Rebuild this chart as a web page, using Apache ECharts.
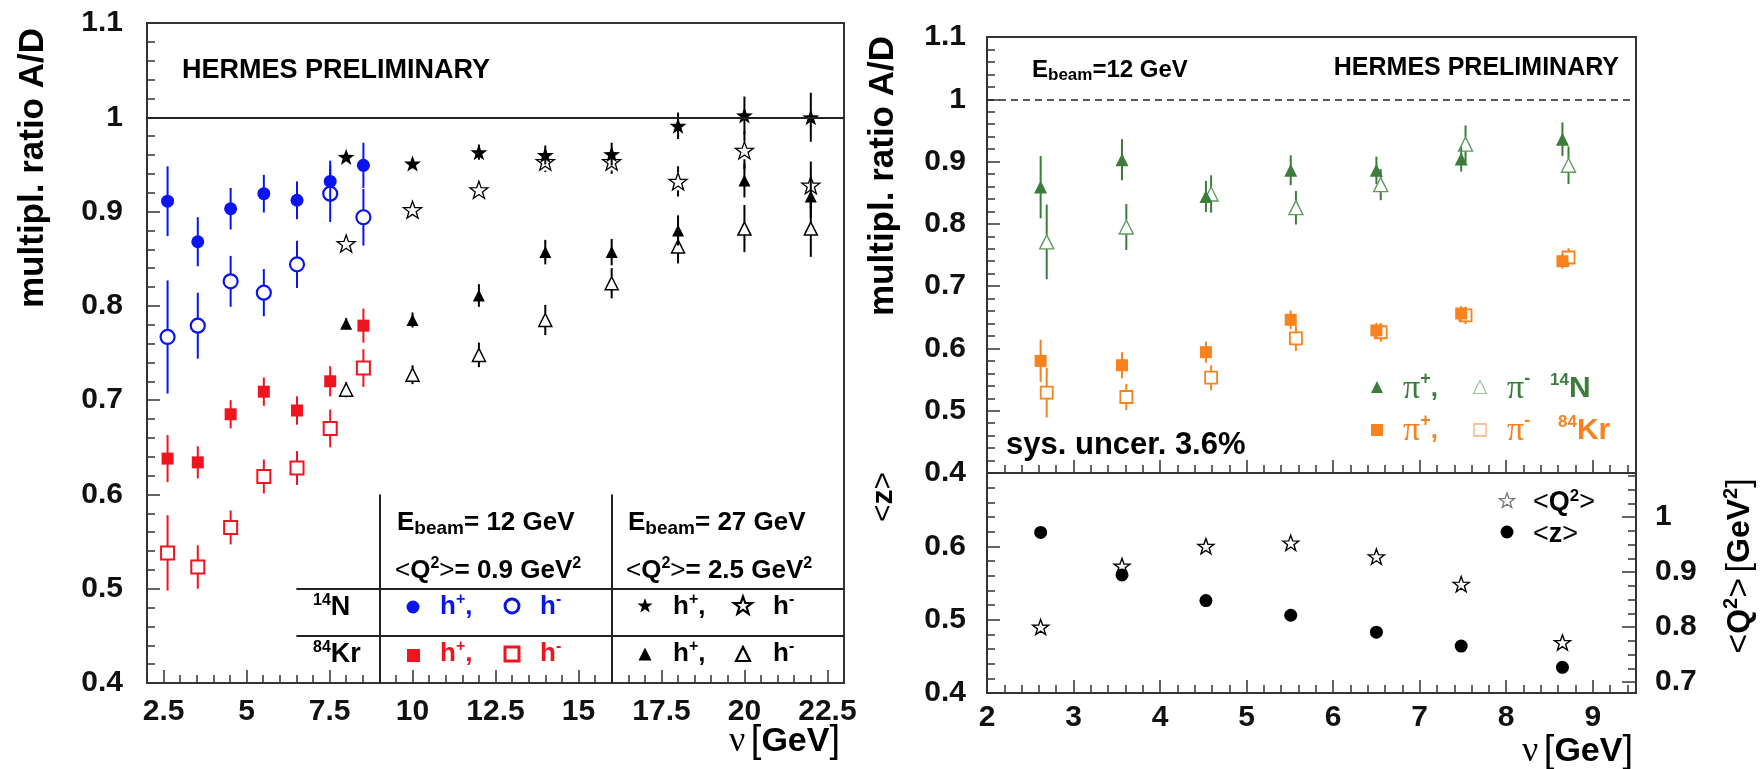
<!DOCTYPE html>
<html><head><meta charset="utf-8">
<script src="https://cdn.jsdelivr.net/npm/echarts@6/dist/echarts.min.js"></script>
<style>html,body{margin:0;padding:0;background:#fff}#c{width:1764px;height:769px}</style>
</head><body><div id="c"></div>
<script>
// ---------------- data ----------------
// left panel: E_beam = 12 GeV (nu bins) and 27 GeV (nu bins)
const nu12 = [2.62, 3.53, 4.52, 5.52, 6.52, 7.52, 8.52];
const nu27 = [8, 10, 12, 14, 16, 18, 20, 22];
const N12hp    = [0.911, 0.868, 0.903, 0.919, 0.912, 0.932, 0.949];
const N12hpErr = [0.037, 0.026, 0.022, 0.020, 0.020, 0.022, 0.024];
const N12hm    = [0.767, 0.779, 0.826, 0.814, 0.844, 0.919, 0.894];
const N12hmErr = [0.060, 0.035, 0.027, 0.025, 0.025, 0.030, 0.030];
const Kr12hp    = [0.638, 0.634, 0.685, 0.709, 0.689, 0.720, 0.779];
const Kr12hpErr = [0.025, 0.017, 0.015, 0.015, 0.015, 0.016, 0.018];
const Kr12hm    = [0.538, 0.523, 0.565, 0.619, 0.628, 0.670, 0.734];
const Kr12hmErr = [0.040, 0.023, 0.018, 0.018, 0.018, 0.020, 0.020];
const N27hp    = [0.958, 0.951, 0.963, 0.960, 0.961, 0.991, 1.002, 1.000];
const N27hpErr = [0.004, 0.005, 0.008, 0.010, 0.012, 0.014, 0.020, 0.026];
const N27hm    = [0.866, 0.902, 0.923, 0.953, 0.953, 0.932, 0.965, 0.928];
const N27hmErr = [0.005, 0.006, 0.009, 0.011, 0.013, 0.016, 0.020, 0.025];
const Kr27hp    = [0.781, 0.785, 0.811, 0.857, 0.857, 0.880, 0.933, 0.916];
const Kr27hpErr = [0.006, 0.008, 0.012, 0.013, 0.014, 0.016, 0.018, 0.022];
const Kr27hm    = [0.711, 0.727, 0.748, 0.785, 0.824, 0.863, 0.882, 0.882];
const Kr27hmErr = [0.008, 0.010, 0.013, 0.016, 0.016, 0.018, 0.025, 0.030];
// right panel: identified pions, E_beam = 12 GeV
const nuPip = [2.62, 3.56, 4.53, 5.51, 6.50, 7.48, 8.65];
const nuPim = [2.69, 3.61, 4.59, 5.57, 6.55, 7.53, 8.72];
const NPip    = [0.859, 0.903, 0.844, 0.886, 0.886, 0.904, 0.936];
const NPipErr = [0.050, 0.033, 0.025, 0.024, 0.022, 0.020, 0.027];
const NPim    = [0.771, 0.795, 0.848, 0.826, 0.863, 0.928, 0.894];
const NPimErr = [0.060, 0.037, 0.030, 0.027, 0.025, 0.030, 0.030];
const KrPip    = [0.580, 0.573, 0.594, 0.646, 0.629, 0.656, 0.740];
const KrPipErr = [0.034, 0.021, 0.017, 0.015, 0.012, 0.012, 0.012];
const KrPim    = [0.529, 0.522, 0.553, 0.616, 0.626, 0.653, 0.746];
const KrPimErr = [0.040, 0.021, 0.020, 0.020, 0.015, 0.014, 0.015];
// kinematics (bottom right)
const nuKin  = [2.62, 3.56, 4.53, 5.51, 6.50, 7.48, 8.65];
const meanZ  = [0.619, 0.561, 0.526, 0.506, 0.483, 0.464, 0.435];
const meanQ2 = [0.800, 0.911, 0.947, 0.953, 0.928, 0.878, 0.772];
// tick labels
const xTicksL = [2.5, 5, 7.5, 10, 12.5, 15, 17.5, 20, 22.5];
const xTicksR = [2, 3, 4, 5, 6, 7, 8, 9];
const q2Ticks = [0.7, 0.8, 0.9, 1];

// ---------------- style ----------------
const SANS = '"Liberation Sans", Arial, Helvetica, sans-serif';
const SERIF = '"Liberation Serif", "Times New Roman", serif';
const AX = '#333';
const BLUE = '#0a14f0', RED = '#f0141e', GREEN = '#3c7d3c', GREEN_L = '#5f9a5f', ORANGE = '#f7821e', BLACK = '#000';
const STAR = 'path://M50 0L61.76 33.82L97.55 34.55L69.02 56.18L79.39 90.45L50 70L20.61 90.45L30.98 56.18L2.45 34.55L38.24 33.82Z';
const LBL = {fontFamily: SANS, fontWeight: 'bold', fontSize: 30, color: '#111'};
const LINE = {color: AX, width: 2};
const TICK = {color: AX, width: 1.5};

function steps(a, b, s) { const o = []; for (let v = a; v <= b + 1e-9; v += s) o.push(Math.round(v * 1000) / 1000); return o; }

function xAx(gi, min, max, ticks, len, labels, margin, showLine) {
  return {type: 'value', gridIndex: gi, min, max, position: 'bottom', offset: 0,
    axisLine: {show: showLine, onZero: false, lineStyle: LINE},
    axisTick: {show: true, inside: true, length: len, customValues: ticks, lineStyle: TICK},
    axisLabel: labels ? Object.assign({show: true, customValues: labels, margin}, LBL) : {show: false},
    splitLine: {show: false}};
}
function yAxL(gi, min, max, margin, showMax) {
  return {type: 'value', gridIndex: gi, min, max, interval: 0.1, position: 'left',
    axisLine: {show: true, onZero: false, lineStyle: LINE},
    axisTick: {show: true, inside: true, length: 13, lineStyle: TICK},
    minorTick: {show: true, splitNumber: 5, length: 8, lineStyle: TICK},
    axisLabel: Object.assign({margin, showMaxLabel: showMax}, LBL),
    splitLine: {show: false}};
}
function yAxR(gi, min, max, ticks, len, labels) {
  return {type: 'value', gridIndex: gi, min, max, position: 'right', offset: 0,
    axisLine: {show: false},
    axisTick: {show: true, inside: true, length: len, customValues: ticks, lineStyle: TICK},
    axisLabel: labels ? Object.assign({show: true, customValues: labels, margin: 19}, LBL) : {show: false},
    splitLine: {show: false}};
}

function errSeries(xi, yi, xs, ys, es, color, gap, lw) {
  return {type: 'custom', xAxisIndex: xi, yAxisIndex: yi, silent: true, z: 2,
    data: xs.map((x, i) => [x, ys[i], es[i]]),
    renderItem(params, api) {
      const x = api.value(0), y = api.value(1), e = api.value(2);
      const c = api.coord([x, y]), hi = api.coord([x, y + e]), lo = api.coord([x, y - e]);
      const ch = [];
      if (hi[1] < c[1] - gap) ch.push({type: 'line', shape: {x1: c[0], y1: hi[1], x2: c[0], y2: c[1] - gap}, style: {stroke: color, lineWidth: lw}});
      if (lo[1] > c[1] + gap) ch.push({type: 'line', shape: {x1: c[0], y1: c[1] + gap, x2: c[0], y2: lo[1]}, style: {stroke: color, lineWidth: lw}});
      return {type: 'group', children: ch};
    }};
}
function markSeries(xi, yi, xs, ys, m) {
  return {type: 'scatter', xAxisIndex: xi, yAxisIndex: yi, silent: true, z: m.open ? 3 : 4,
    data: xs.map((x, i) => [x, ys[i]]), symbol: m.symbol, symbolSize: m.size, symbolKeepAspect: true,
    itemStyle: m.open ? {color: 'rgba(0,0,0,0)', borderColor: m.color, borderWidth: m.bw || 2, opacity: 1}
                      : {color: m.color, borderWidth: 0, opacity: 1}};
}
const series = [];
function add(xi, yi, xs, ys, es, m) {
  if (es) series.push(errSeries(xi, yi, xs, ys, es, m.bar || m.color, m.open ? m.size / 2 : 0, m.lw || 2));
  const s = markSeries(xi, yi, xs, ys, m);
  series.push(s);
  return s;
}

// left panel
add(0, 0, nu12, N12hm, N12hmErr, {symbol: 'circle', size: 14, color: BLUE, open: true, bw: 2.2});
add(0, 0, nu12, Kr12hm, Kr12hmErr, {symbol: 'rect', size: 13, color: RED, open: true, bw: 2});
add(0, 0, nu27, N27hm, N27hmErr, {symbol: STAR, size: 18, color: BLACK, open: true, bw: 1.3});
add(0, 0, nu27, Kr27hm, Kr27hmErr, {symbol: 'triangle', size: 13, color: BLACK, open: true, bw: 1.5});
const sLeft = add(0, 0, nu12, N12hp, N12hpErr, {symbol: 'circle', size: 13, color: BLUE});
add(0, 0, nu12, Kr12hp, Kr12hpErr, {symbol: 'rect', size: 12, color: RED});
add(0, 0, nu27, N27hp, N27hpErr, {symbol: STAR, size: 17, color: BLACK});
add(0, 0, nu27, Kr27hp, Kr27hpErr, {symbol: 'triangle', size: 12, color: BLACK});
sLeft.markLine = {silent: true, symbol: ['none', 'none'], label: {show: false}, animation: false,
  lineStyle: {color: '#222', width: 2, type: 'solid'},
  data: [{yAxis: 1},
    [{coord: [9, 0.4]}, {coord: [9, 0.6]}],
    [{coord: [16, 0.4]}, {coord: [16, 0.6]}],
    [{coord: [6.5, 0.5]}, {coord: [23, 0.5]}],
    [{coord: [6.5, 0.45]}, {coord: [23, 0.45]}]]};

// right top panel
add(2, 1, nuPim, NPim, NPimErr, {symbol: 'triangle', size: 14, color: GREEN_L, open: true, bw: 1.4, bar: GREEN});
add(2, 1, nuPim, KrPim, KrPimErr, {symbol: 'rect', size: 12, color: ORANGE, open: true, bw: 1.8});
const sRight = add(2, 1, nuPip, NPip, NPipErr, {symbol: 'triangle', size: 13, color: GREEN});
add(2, 1, nuPip, KrPip, KrPipErr, {symbol: 'rect', size: 12, color: ORANGE});
sRight.markLine = {silent: true, symbol: ['none', 'none'], label: {show: false}, animation: false,
  lineStyle: {color: '#222', width: 1.5, type: [7, 5]}, data: [{yAxis: 1}]};

// right bottom panel
add(4, 3, nuKin, meanQ2, null, {symbol: STAR, size: 16, color: BLACK, open: true, bw: 1.4});
add(4, 2, nuKin, meanZ, null, {symbol: 'circle', size: 13, color: BLACK});

// ---------------- annotations ----------------
function st(size, o) {
  o = o || {};
  const fam = o.serif ? SERIF : SANS, w = o.normal ? 'normal' : 'bold';
  return {font: w + ' ' + size + 'px ' + fam, fontFamily: fam, fontWeight: w, fontSize: size, fill: o.color || '#000', lineHeight: size + 4};
}
function sup(size, o, lh) { const s = st(size, o); s.lineHeight = lh || 6; s.verticalAlign = 'top'; return s; }
function sub(size, o, lh) { const s = st(size, o); s.lineHeight = lh || 6; s.verticalAlign = 'bottom'; return s; }
function T(x, y, text, rich, align, rot) {
  align = align || 'left';
  return {type: 'text', x, y, rotation: rot || 0, z: 50, silent: true,
    style: {text, rich, align, verticalAlign: 'middle', textAlign: align, textVerticalAlign: 'middle', font: 'bold 20px ' + SANS}};
}
function starPts(cx, cy, R) { const p = []; for (let i = 0; i < 10; i++) { const a = -Math.PI / 2 + i * Math.PI / 5; const r = i % 2 ? R * 0.4 : R; p.push([cx + r * Math.cos(a), cy + r * Math.sin(a)]); } return p; }
function triPts(cx, cy, s) { return [[cx, cy - s / 2], [cx + s / 2, cy + s / 2], [cx - s / 2, cy + s / 2]]; }
function G(type, shape, fill, stroke, lw) { return {type, shape, z: 50, silent: true, style: {fill: fill || 'none', stroke: stroke || 'none', lineWidth: lw || 0}}; }

const HA = (c) => ({a: st(26, {color: c}), p: sup(16, {color: c})});
const graphics = [
  T(182, 71, '{a|HERMES PRELIMINARY}', {a: st(27)}),
  T(1619, 68, '{a|HERMES PRELIMINARY}', {a: st(25)}, 'right'),
  T(1032, 70, '{a|E}{s|beam}{a|=12 GeV}', {a: st(24), s: sub(17, null, 10)}),
  // legend table (left)
  T(397, 523, '{a|E}{s|beam}{a|= 12 GeV}', {a: st(26), s: sub(19, null, 10)}),
  T(395, 571, '{l|<}{a|Q}{p|2}{l|>}{a|= 0.9 GeV}{p|2}', {a: st(26), l: st(26, {normal: true}), p: sup(16)}),
  T(628, 523, '{a|E}{s|beam}{a|= 27 GeV}', {a: st(26), s: sub(19, null, 10)}),
  T(626, 571, '{l|<}{a|Q}{p|2}{l|>}{a|= 2.5 GeV}{p|2}', {a: st(26), l: st(26, {normal: true}), p: sup(16)}),
  T(313, 608, '{p|14}{a|N}', {a: st(27), p: sup(16)}),
  T(313, 655, '{p|84}{a|Kr}', {a: st(27), p: sup(16)}),
  T(440, 607, '{a|h}{p|+}{a|,}', HA(BLUE)),
  T(540, 607, '{a|h}{p|-}', HA(BLUE)),
  T(440, 654, '{a|h}{p|+}{a|,}', HA(RED)),
  T(540, 654, '{a|h}{p|-}', HA(RED)),
  T(673, 607, '{a|h}{p|+}{a|,}', HA(BLACK)),
  T(773, 607, '{a|h}{p|-}', HA(BLACK)),
  T(673, 654, '{a|h}{p|+}{a|,}', HA(BLACK)),
  T(773, 654, '{a|h}{p|-}', HA(BLACK)),
  G('circle', {cx: 413, cy: 607, r: 6.5}, BLUE),
  G('circle', {cx: 512, cy: 606, r: 7}, 'none', BLUE, 3),
  G('rect', {x: 407, y: 649, width: 13, height: 13}, RED),
  G('rect', {x: 505, y: 647, width: 14, height: 14}, 'none', RED, 3),
  G('polygon', {points: starPts(645, 606, 8)}, BLACK),
  G('polygon', {points: starPts(743, 606, 9.5)}, 'none', BLACK, 2.2),
  G('polygon', {points: triPts(645, 654, 13)}, BLACK),
  G('polygon', {points: triPts(743, 654, 14)}, 'none', BLACK, 2.2),
  // right top legend
  G('polygon', {points: triPts(1377, 387, 12)}, GREEN),
  T(1403, 389, '{pi|π}{p|+}{c|,}', {pi: st(34, {serif: true, normal: true, color: GREEN}), p: sup(18, {color: GREEN}), c: st(26, {color: GREEN})}),
  G('polygon', {points: triPts(1480, 387, 13)}, 'none', '#9cbf9c', 1.2),
  T(1507, 389, '{pi|π}{p|-}', {pi: st(34, {serif: true, normal: true, color: GREEN}), p: sup(18, {color: GREEN})}),
  T(1550, 389, '{p|14}{a|N}', {a: st(30, {color: GREEN}), p: sup(17, {color: GREEN})}),
  G('rect', {x: 1371, y: 424, width: 12, height: 12}, ORANGE),
  T(1403, 431, '{pi|π}{p|+}{c|,}', {pi: st(34, {serif: true, normal: true, color: ORANGE}), p: sup(18, {color: ORANGE}), c: st(26, {color: ORANGE})}),
  G('rect', {x: 1474, y: 424, width: 12, height: 12}, 'none', '#f5b37a', 1.3),
  T(1507, 431, '{pi|π}{p|-}', {pi: st(34, {serif: true, normal: true, color: ORANGE}), p: sup(18, {color: ORANGE})}),
  T(1558, 431, '{p|84}{a|Kr}', {a: st(30, {color: ORANGE}), p: sup(17, {color: ORANGE})}),
  T(1006, 445, '{a|sys. uncer. 3.6%}', {a: st(31)}),
  // bottom right legend
  G('polygon', {points: starPts(1507, 501, 8)}, 'none', '#777', 1.3),
  T(1533, 503, '{l|<}{a|Q}{p|2}{l|>}', {a: st(27), l: st(27, {normal: true}), p: sup(17)}),
  G('circle', {cx: 1507, cy: 532, r: 6.5}, BLACK),
  T(1533, 535, '{l|<}{a|z}{l|>}', {a: st(27), l: st(27, {normal: true})}),
  // axis titles
  T(33, 168, '{a|multipl. ratio A/D}', {a: st(35)}, 'center', Math.PI / 2),
  T(883, 176, '{a|multipl. ratio A/D}', {a: st(35)}, 'center', Math.PI / 2),
  T(884, 497, '{l|<}{a|z}{l|>}', {a: st(30), l: st(30, {normal: true})}, 'center', Math.PI / 2),
  T(1740, 566, '{l|<}{a|Q}{p|2}{l|>} {l|[}{a|GeV}{p|2}{l|]}', {a: st(32), l: st(34, {normal: true}), p: sup(20)}, 'center', Math.PI / 2),
  T(840, 742, '{n|ν} {l|[}{a|GeV}{l|]}', {n: st(36, {serif: true, normal: true}), l: st(38, {normal: true}), a: st(34)}, 'right'),
  T(1633, 752, '{n|ν} {l|[}{a|GeV}{l|]}', {n: st(36, {serif: true, normal: true}), l: st(38, {normal: true}), a: st(34)}, 'right')
];

const gridStyle = {show: true, borderColor: AX, borderWidth: 2, backgroundColor: 'rgba(0,0,0,0)'};
const option = {
  animation: false,
  backgroundColor: '#fff',
  grid: [
    Object.assign({left: 147, top: 23, width: 697, height: 660}, gridStyle),
    Object.assign({left: 987, top: 37, width: 649, height: 436}, gridStyle),
    Object.assign({left: 987, top: 473, width: 649, height: 220}, gridStyle)
  ],
  xAxis: [
    xAx(0, 2, 23, xTicksL, 13, xTicksL, 14, true),
    xAx(0, 2, 23, steps(2, 23, 0.5), 8, null, 0, false),
    xAx(1, 2, 9.5, xTicksR, 13, null, 0, true),
    xAx(1, 2, 9.5, steps(2, 9.5, 0.2), 8, null, 0, false),
    xAx(2, 2, 9.5, xTicksR, 13, xTicksR, 10, true),
    xAx(2, 2, 9.5, steps(2, 9.5, 0.2), 8, null, 0, false)
  ],
  yAxis: [
    yAxL(0, 0.4, 1.1, 24, true),
    yAxL(1, 0.4, 1.1, 21, true),
    yAxL(2, 0.4, 0.7, 21, false),
    yAxR(2, 0.68, 1.08, q2Ticks, 14, q2Ticks),
    yAxR(2, 0.68, 1.08, steps(0.7, 1.075, 0.025), 8, null)
  ],
  series,
  graphic: graphics
};
const chart = echarts.init(document.getElementById('c'));
chart.setOption(option);
</script>
</body></html>
